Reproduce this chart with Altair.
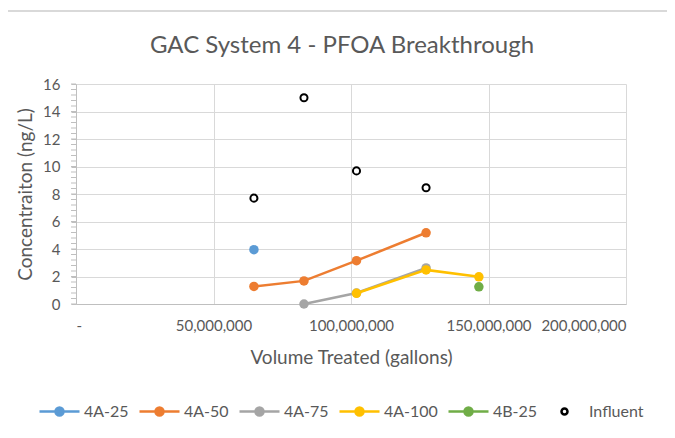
import altair as alt
import pandas as pd

# ---- data ----
series_names = ["4A-25", "4A-50", "4A-75", "4A-100", "4B-25", "Influent"]
series_colors = ["#5B9BD5", "#ED7D31", "#A5A5A5", "#FFC000", "#70AD47", "#000000"]
series_fills = ["#5B9BD5", "#ED7D31", "#A5A5A5", "#FFC000", "#70AD47", "transparent"]

vol_4a25 = [64.7e6]
conc_4a25 = [3.95]
vol_4a50 = [64.7e6, 82.9e6, 102.0e6, 127.3e6]
conc_4a50 = [1.28, 1.68, 3.15, 5.18]
vol_4a75 = [82.9e6, 102.0e6, 127.3e6]
conc_4a75 = [0.0, 0.8, 2.62]
vol_4a100 = [102.0e6, 127.3e6, 146.5e6]
conc_4a100 = [0.78, 2.48, 1.98]
vol_4b25 = [146.5e6]
conc_4b25 = [1.25]
vol_influent = [64.7e6, 82.9e6, 102.0e6, 127.3e6]
conc_influent = [7.7, 15.0, 9.68, 8.45]

title_text = "GAC System 4 - PFOA Breakthrough"
x_ticks = [0, 50e6, 100e6, 150e6, 200e6]
y_ticks = [0, 2, 4, 6, 8, 10, 12, 14, 16]
y_minor = [round(i * 0.4, 1) for i in range(41)]

vols = [vol_4a25, vol_4a50, vol_4a75, vol_4a100, vol_4b25, vol_influent]
concs = [conc_4a25, conc_4a50, conc_4a75, conc_4a100, conc_4b25, conc_influent]

rows = []
for name, vs, cs in zip(series_names, vols, concs):
    for v, c in zip(vs, cs):
        rows.append({"series": name, "volume": v, "conc": c})
df = pd.DataFrame(rows)

FONT = "Lato"
TXT = "#595959"

x_enc = alt.X(
    "volume:Q",
    scale=alt.Scale(domain=[0, 200e6], nice=False),
    axis=alt.Axis(
        values=x_ticks,
        labelExpr="datum.value == 0 ? '-' : format(datum.value, ',')",
        title="Volume Treated (gallons)",
        grid=True,
        ticks=False,
        labelPadding=14,
        labelOverlap=False,
        titleY=59,
        titleBaseline="alphabetic",
    ),
)
y_enc = alt.Y(
    "conc:Q",
    scale=alt.Scale(domain=[0, 16], nice=False),
    axis=alt.Axis(
        values=y_ticks,
        title="Concentraiton (ng/L)",
        grid=True,
        ticks=True,
        tickSize=5,
        labelPadding=11,
        labelOverlap=False,
        titleX=-51,
        titleBaseline="middle",
    ),
)

color_scale = alt.Scale(domain=series_names, range=series_colors)
fill_scale = alt.Scale(domain=series_names, range=series_fills)

line_path = "M-1,0L1,0M-0.2,0A0.2,0.2,0,1,0,0.2,0A0.2,0.2,0,1,0,-0.2,0Z"
circle_path = "M-0.15,0A0.15,0.15,0,1,0,0.15,0A0.15,0.15,0,1,0,-0.15,0Z"
shape_scale = alt.Scale(domain=series_names, range=[line_path] * 5 + [circle_path])

base = alt.Chart(df)

layers = []
# minor ticks on the y axis
minor = alt.Chart(pd.DataFrame({"conc": y_minor})).mark_rule(
    color="#BFBFBF", strokeWidth=1
).encode(y=y_enc, x=alt.value(-5), x2=alt.value(0))
layers.append(minor)

for name, col in zip(series_names, series_colors):
    sub = base.transform_filter(alt.datum.series == name)
    if name != "Influent":
        layers.append(sub.mark_line(strokeWidth=2.5, color=col).encode(x=x_enc, y=y_enc))
        layers.append(
            sub.mark_point(filled=True, opacity=1, size=90, shape="circle", color=col)
            .encode(x=x_enc, y=y_enc)
        )
    else:
        layers.append(
            sub.mark_point(filled=False, opacity=1, size=50, shape="circle",
                           color=col, strokeWidth=2).encode(x=x_enc, y=y_enc)
        )

legend = alt.Legend(
    title=None,
    orient="none",
    direction="horizontal",
    legendX=-38,
    legendY=306,
    symbolSize=1600,
    symbolStrokeWidth=2.5,
    labelOffset=3,
    columnPadding=5,
    gridAlign="none",
    labelFontSize=16,
    labelColor=TXT,
    labelFont=FONT,
    padding=0,
)
legend_layer = base.mark_point(filled=False, opacity=1, strokeWidth=2.5, size=0).encode(
    x=x_enc, y=y_enc,
    color=alt.Color("series:N", scale=color_scale, legend=legend),
    fill=alt.Fill("series:N", scale=fill_scale, legend=legend),
    shape=alt.Shape("series:N", scale=shape_scale, legend=legend),
)
layers.append(legend_layer)

title_layer = alt.Chart(pd.DataFrame({"t": [title_text]})).mark_text(
    font=FONT, fontSize=24, color=TXT, align="center", baseline="alphabetic"
).encode(text="t:N", x=alt.value(266), y=alt.value(-31))
layers.append(title_layer)

frame_line = alt.Chart(pd.DataFrame({"k": [0]})).mark_rule(
    color="#D9D9D9", strokeWidth=2
).encode(x=alt.value(-68), x2=alt.value(591), y=alt.value(-73))
layers.append(frame_line)

chart = alt.layer(*layers).properties(
    width=550,
    height=220,
    autosize=alt.AutoSizeParams(type="none"),
    padding={"left": 68, "top": 76, "right": 41, "bottom": 126},
    background="white",
).configure_view(stroke=None).configure_axis(
    labelFont=FONT, titleFont=FONT, labelFontSize=15, titleFontSize=19,
    labelColor=TXT, titleColor=TXT, titleFontWeight="normal",
    gridColor="#D9D9D9", domainColor="#BFBFBF", tickColor="#BFBFBF",
    gridWidth=1, domainWidth=1,
)

chart.save("out.html", embed_options={"renderer": "svg", "actions": False})
